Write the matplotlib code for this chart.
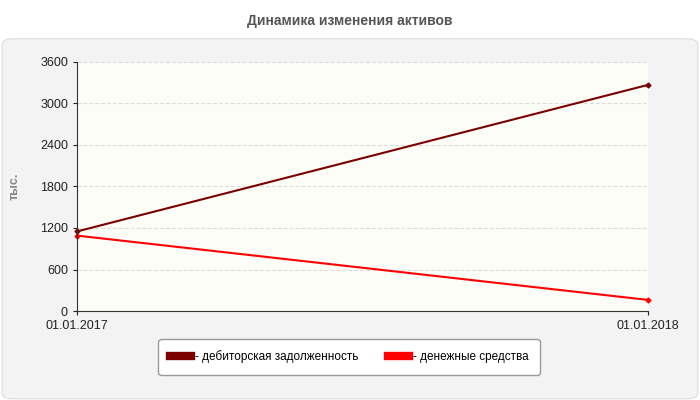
import matplotlib
matplotlib.use("Agg")
import matplotlib.pyplot as plt
from matplotlib.patches import FancyBboxPatch

dates = ["01.01.2017", "01.01.2018"]
receivables = [1150, 3270]
cash = [1090, 160]
yticks = [0, 600, 1200, 1800, 2400, 3000, 3600]

plt.rcParams['font.family'] = ['Liberation Sans', 'DejaVu Sans']
fig = plt.figure(figsize=(7, 4), dpi=100)
fig.patch.set_facecolor('white')
panel = FancyBboxPatch((0.003, 0.003), 0.994, 0.9, boxstyle="round,pad=0,rounding_size=0.015",
                       transform=fig.transFigure, facecolor='#f3f3f3', edgecolor='#dddddd', lw=0.8,
                       zorder=-10)
fig.patches.append(panel)
fig.text(0.5, 0.948, "Динамика изменения активов", ha='center', va='center',
         fontsize=10, fontweight='bold', color='#555555')

ax = fig.add_axes([0.11, 0.2225, 0.816, 0.6225])
ax.set_facecolor('#fdfdf7')
x = [0, 1]
ax.plot(x, receivables, color='#7a0000', lw=1.5, marker='D', ms=2.5, clip_on=False)
ax.plot(x, cash, color='#ff0000', lw=1.5, marker='D', ms=2.5, clip_on=False)
ax.set_xlim(0, 1)
ax.set_ylim(0, 3600)
ax.set_xticks(x)
ax.set_xticklabels(dates)
ax.set_yticks(yticks)
ax.tick_params(labelsize=9, colors='#222222', length=3)
ax.grid(axis='y', color='#dddddd', ls='--', lw=0.8)
for s in ['top', 'right']:
    ax.spines[s].set_visible(False)
for s in ['left', 'bottom']:
    ax.spines[s].set_color('#333333')
ax.set_ylabel("тыс.", fontsize=9, color='#888888', fontweight='bold', labelpad=14)

leg = fig.legend(handles=ax.lines, labels=["- дебиторская задолженность", "- денежные средства"],
                 loc='center', bbox_to_anchor=(0.499, 0.1075), ncol=2, fontsize=8.5,
                 frameon=True, fancybox=True, edgecolor='#999999', handlelength=1.8,
                 columnspacing=2.5, borderpad=1.0, handletextpad=0.3, borderaxespad=0)
leg.get_frame().set_boxstyle("round,pad=0,rounding_size=0.3")
leg.get_frame().set_alpha(1)
for h in leg.legend_handles:
    h.set_linewidth(6)
    h.set_marker('')
fig.savefig("out.png", dpi=100)
